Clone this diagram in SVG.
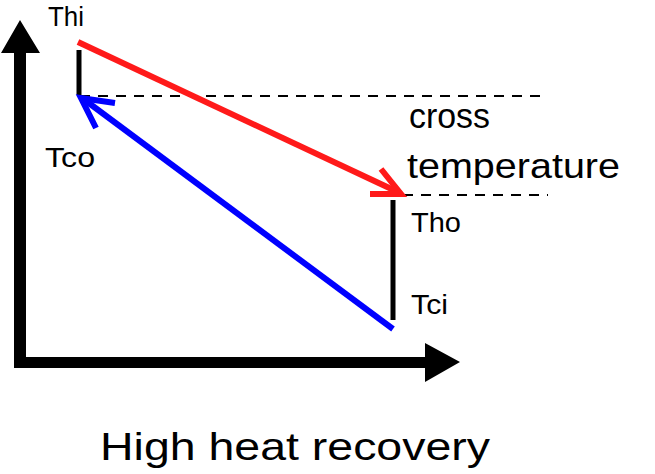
<svg xmlns="http://www.w3.org/2000/svg" width="655" height="474" viewBox="0 0 655 474">
<style>
text{font-family:"Liberation Sans","Open Sans",sans-serif;fill:#000;}
.lbl{font-size:28px;}
.big{font-size:35px;}
.title{font-size:39px;}
.dash{stroke:#000;stroke-width:2;stroke-dasharray:10 8;fill:none;}
.bar{stroke:#000;stroke-width:5;fill:none;}
.hot{stroke:#ff1a1a;stroke-width:6;fill:none;stroke-linecap:butt;stroke-linejoin:miter;}
.cold{stroke:#0000ff;stroke-width:6;fill:none;stroke-linejoin:miter;}
</style>
<rect width="655" height="474" fill="#fff"/>
<g id="axes">
<path d="M14,368 V53 H1 L20,20 L40,53 H26 V357 H425 V343 L460,362 L425,382 V368 Z" fill="#000"/>
</g>
<g id="connectors">
<path class="dash" d="M80,96 H548"/>
<path class="dash" d="M403,195 H548"/>
<path class="bar" d="M79,50 V95"/>
<path class="bar" d="M393,200 V320"/>
<path class="hot" d="M78,42 L400,193"/>
<path class="hot" d="M370,194 L401,194 L381,169"/>
<path class="cold" d="M393,329 L82,98"/>
<path class="cold" d="M115,103 L81,98 L96,128"/>
</g>
<g id="labels">
<text class="lbl" x="48" y="26" textLength="36" lengthAdjust="spacingAndGlyphs">Thi</text>
<text class="lbl" x="45" y="167" textLength="50" lengthAdjust="spacingAndGlyphs">Tco</text>
<text class="big" x="409" y="128" textLength="81" lengthAdjust="spacingAndGlyphs">cross</text>
<text class="big" x="407" y="178" textLength="213" lengthAdjust="spacingAndGlyphs">temperature</text>
<text class="lbl" x="411" y="232" textLength="50" lengthAdjust="spacingAndGlyphs">Tho</text>
<text class="lbl" x="411" y="314" textLength="37" lengthAdjust="spacingAndGlyphs">Tci</text>
<text class="title" x="100" y="460" textLength="390" lengthAdjust="spacingAndGlyphs">High heat recovery</text>
</g>
</svg>
